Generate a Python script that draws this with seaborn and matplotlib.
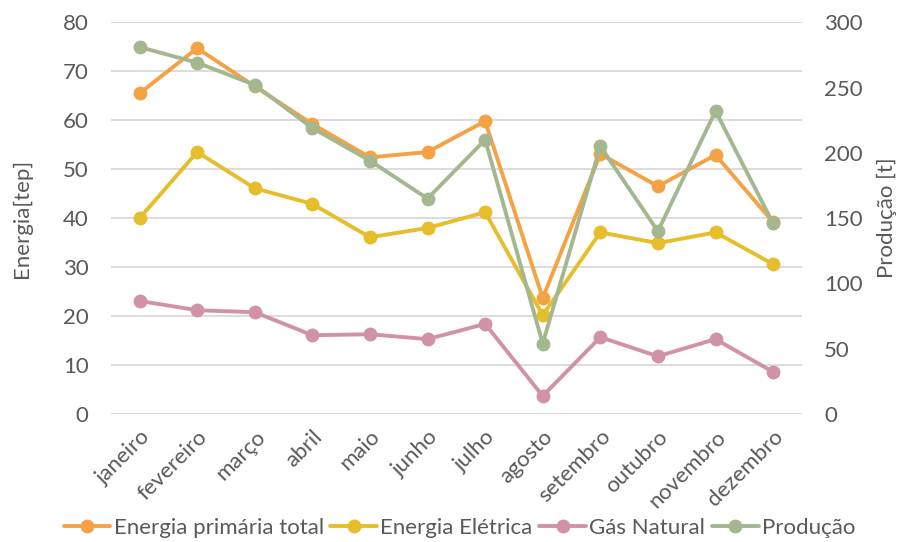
"""Energia e produção mensal: linhas com eixo secundário."""

import matplotlib
matplotlib.use("Agg")
import matplotlib.pyplot as plt
import pandas as pd
import seaborn as sns

meses = ["janeiro", "fevereiro", "março", "abril", "maio", "junho",
         "julho", "agosto", "setembro", "outubro", "novembro", "dezembro"]
energia_primaria = [65.5, 74.7, 66.9, 59.2, 52.4, 53.5, 59.8, 23.7, 53.1, 46.5, 52.9, 39.2]
energia_eletrica = [40.0, 53.5, 46.1, 42.9, 36.1, 38.0, 41.2, 20.2, 37.1, 34.9, 37.1, 30.6]
gas_natural = [23.1, 21.2, 20.8, 16.1, 16.3, 15.3, 18.4, 3.7, 15.7, 11.8, 15.3, 8.6]
producao = [281, 269, 252, 219, 194, 165, 210, 54, 205, 140, 232, 146]

CORES = {
    "Energia primária total": "#F4A244",
    "Energia Elétrica": "#E6BE2B",
    "Gás Natural": "#D192A8",
    "Produção": "#A4B78F",
}
TEXTO = "#595959"
FS = 16

sns.set_theme(style="white")
plt.rcParams["font.family"] = ["Lato", "DejaVu Sans"]
plt.rcParams["font.size"] = FS

df = pd.DataFrame({
    "mes": meses,
    "Energia primária total": energia_primaria,
    "Energia Elétrica": energia_eletrica,
    "Gás Natural": gas_natural,
    "Produção": producao,
})

fig = plt.figure(figsize=(9.01, 5.42), dpi=100)
ax = fig.add_axes([0.123, 0.236, 0.767, 0.723])
ax2 = ax.twinx()

estilo = dict(marker="o", markersize=10, linewidth=2.8, markeredgewidth=0)
for serie in ["Energia primária total", "Energia Elétrica", "Gás Natural"]:
    sns.lineplot(data=df, x="mes", y=serie, color=CORES[serie], ax=ax,
                 label=serie, legend=False, **estilo)
sns.lineplot(data=df, x="mes", y="Produção", color=CORES["Produção"], ax=ax2,
             label="Produção", legend=False, **estilo)

ax.set_xlim(-0.5, 11.5)
ax.set_ylim(0, 80)
ax2.set_ylim(0, 300)
ax.set_yticks(range(0, 81, 10))
ax2.set_yticks(range(0, 301, 50))
ax.yaxis.grid(True, color="#D9D9D9", linewidth=1.3)
ax.set_axisbelow(True)

for a in (ax, ax2):
    for s in a.spines.values():
        s.set_visible(False)
    a.tick_params(length=0, colors=TEXTO, labelsize=FS)
ax.tick_params(axis="y", pad=16)
ax2.tick_params(axis="y", pad=16)

ax.set_xticks(range(len(meses)))
ax.set_xticklabels(meses, rotation=45, ha="right", rotation_mode="anchor")
ax.tick_params(axis="x", pad=9)

ax.set_xlabel("")
ax.set_ylabel("Energia[tep]", color=TEXTO, fontsize=FS, labelpad=22)
ax2.set_ylabel("Produção [t]", color=TEXTO, fontsize=FS, labelpad=10)

h1, l1 = ax.get_legend_handles_labels()
h2, l2 = ax2.get_legend_handles_labels()
fig.legend(h1 + h2, l1 + l2, loc="lower center", bbox_to_anchor=(0.51, -0.03),
           ncol=4, frameon=False, fontsize=FS, handlelength=2.1,
           handletextpad=0.15, columnspacing=0.3, labelcolor=TEXTO)

fig.savefig("out.png", dpi=100)
